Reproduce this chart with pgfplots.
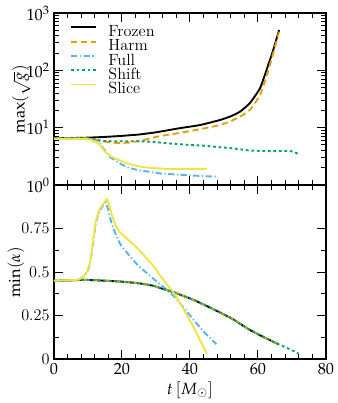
\documentclass[border=0pt]{standalone}
\usepackage{mathpazo}
\usepackage{pgfplots}
\pgfplotsset{compat=1.18}
\definecolor{cOrange}{HTML}{E69F00}
\definecolor{cSky}{HTML}{56B4E9}
\definecolor{cGreen}{HTML}{009E73}
\definecolor{cYellow}{HTML}{F0E442}
\newcommand{\bigf}{\fontsize{13}{15}\selectfont}
\pgfplotsset{
  every axis/.append style={
    scale only axis, width=217.6pt,
    xmin=0, xmax=80,
    xtick={0,20,40,60,80},
    minor x tick num=4,
    tick align=inside,
    major tick length=7pt, minor tick length=4pt,
    axis line style={line width=1.1pt},
    every tick/.style={black, line width=0.8pt},
    tick label style={font=\bigf},
    label style={font=\bigf},
  },
  sFro/.style={black, line width=1.5pt, smooth, tension=0.3},
  sHar/.style={cOrange, line width=1.5pt, dash pattern=on 5pt off 3pt, smooth, tension=0.3},
  sFul/.style={cSky, line width=1.5pt, dash pattern=on 5pt off 2pt on 1pt off 2pt, smooth, tension=0.3},
  sShi/.style={cGreen, line width=1.5pt, dash pattern=on 2.2pt off 2.2pt, smooth, tension=0.3},
  sSli/.style={cYellow, line width=1.5pt, smooth, tension=0.3},
}
\begin{document}
\begin{tikzpicture}
\path[use as bounding box] (-43.2pt,-35.2pt) rectangle (227.2pt,287.2pt);
\begin{axis}[
  at={(0pt,139.2pt)}, anchor=south west,
  height=137.6pt,
  ymode=log, ymin=1, ymax=1000,
  ytick={1,10,100,1000},
  xticklabels={},
  ylabel={$\max(\sqrt{g})$},
  ylabel style={at={(axis description cs:-0.12,0.5)}, anchor=center, rotate=0, inner sep=0pt},
  legend style={draw=none, fill=none, at={(0.059,0.924)}, anchor=north west,
    font=\bigf, row sep=3.2pt, column sep=9pt, inner sep=0pt,
    nodes={inner sep=0pt, text height=8pt, text depth=0pt}},
  legend cell align=left,
  legend image code/.code={\draw[#1, sharp plot] (0pt,3.5pt) -- (20pt,3.5pt);},
]
\addplot[sFro] coordinates {(0,6.6) (5,6.6) (10,6.7) (15,6.9) (20,7.2) (25,7.6) (30,8.3) (37,9.8) (42.9,11.1) (48.8,13.6) (52,15.8) (54.7,19) (57.6,26.8) (60.6,48.7) (62.5,101) (64.5,228) (66.2,505)};
\addlegendentry{Frozen}
\addplot[sHar] coordinates {(0,6.6) (8,6.6) (10,6.5) (13,6.0) (16,5.6) (19,5.4) (22,5.5) (26,6.0) (30,6.9) (34,7.6) (37,8.1) (42.9,9.4) (48.8,11.1) (52,13) (54.7,15.6) (57.6,20.4) (60.6,37) (62.5,78) (64.5,200) (66.2,470)};
\addlegendentry{Harm}
\addplot[sFul] coordinates {(0,6.4) (8,6.4) (10,6.3) (12,5.8) (13.5,5.2) (15,4.0) (16.4,3.1) (18,2.7) (19.3,2.4) (22,2.0) (25.2,1.8) (28,1.7) (31,1.6) (34,1.55) (40,1.47) (45,1.42) (47.8,1.4)};
\addlegendentry{Full}
\addplot[sShi] coordinates {(0,6.6) (8,6.6) (10,6.5) (12,6.2) (14,5.9) (17,5.8) (20,5.8) (25,5.8) (30,5.6) (34,5.3) (40,5.0) (44,4.85) (48,4.6) (52,4.4) (57.6,4.0) (63.5,3.9) (69.5,3.9) (71.8,3.5)};
\addlegendentry{Shift}
\addplot[sSli] coordinates {(0,6.4) (8,6.4) (10,6.3) (12,5.8) (13.5,5.0) (15,3.8) (17,3.1) (19.3,2.7) (22,2.35) (25.2,2.1) (28,2.0) (31,1.95) (34,1.9) (40,1.9) (45,1.92)};
\addlegendentry{Slice}
\end{axis}
\begin{axis}[
  at={(0pt,0pt)}, anchor=south west,
  height=139.2pt,
  ymin=0, ymax=1,
  ytick={0,0.25,0.5,0.75},
  yticklabels={0,0.25,0.5,0.75},
  minor y tick num=1,
  ylabel={$\min(\alpha)$},
  ylabel style={at={(axis description cs:-0.14,0.5)}, anchor=center, rotate=0, inner sep=0pt},
  xlabel={$t\,[M_\odot]$},
  xlabel style={at={(axis description cs:0.5,-0.178)}, anchor=center},
]
\addplot[sFro] coordinates {(0,0.449) (5,0.452) (8.8,0.455) (14,0.451) (19.6,0.445) (25,0.435) (29.4,0.42) (31.2,0.408) (35,0.385) (41,0.34) (47,0.285) (52.5,0.23) (57.6,0.167) (62.5,0.118) (66,0.085)};
\addplot[sHar] coordinates {(0,0.449) (5,0.452) (8.8,0.455) (14,0.451) (19.6,0.445) (25,0.435) (29.4,0.42) (31.2,0.408) (35,0.385) (41,0.34) (47,0.285) (52.5,0.23) (57.6,0.167) (62.5,0.118) (66,0.085)};
\addplot[sFul] coordinates {(0,0.45) (6,0.452) (7.5,0.46) (8.3,0.468) (9.8,0.5) (10.8,0.57) (11.5,0.67) (12.3,0.78) (13,0.83) (13.7,0.86) (15.3,0.9) (17.1,0.77) (19.6,0.657) (24.5,0.543) (29.4,0.458) (31.2,0.43) (35.6,0.354) (40,0.25) (43.9,0.16) (47.8,0.085)};
\addplot[sShi] coordinates {(0,0.449) (5,0.452) (8.8,0.455) (14,0.451) (19.6,0.445) (25,0.435) (29.4,0.42) (31.2,0.408) (35,0.385) (41,0.34) (47,0.285) (52.5,0.23) (57.6,0.167) (62.5,0.118) (66,0.085) (68,0.068) (70,0.05) (71.9,0.032)};
\addplot[sSli] coordinates {(0,0.45) (6.7,0.455) (8.3,0.468) (9.8,0.506) (10.8,0.58) (11.5,0.68) (12.3,0.79) (13,0.84) (13.7,0.87) (14.8,0.9) (15.7,0.918) (17,0.83) (18.1,0.77) (19.6,0.724) (24.5,0.638) (29.4,0.53) (31.2,0.48) (34.8,0.39) (36.1,0.354) (41,0.184) (44.9,0.032)};
\end{axis}
\end{tikzpicture}
\end{document}
